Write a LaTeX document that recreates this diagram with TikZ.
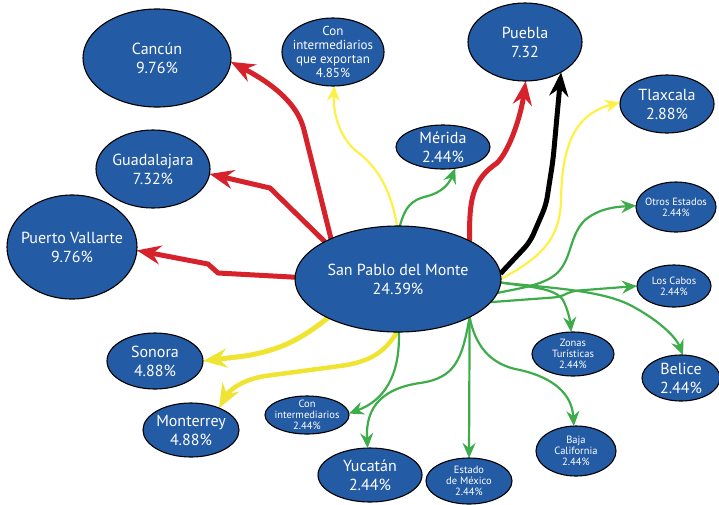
\documentclass[tikz,border=0pt]{standalone}
\usepackage{fontspec}
\setmainfont{PT Sans}
\usetikzlibrary{shapes.geometric,arrows.meta,backgrounds}

\definecolor{blobfill}{RGB}{36,91,165}
\definecolor{rojo}{RGB}{214,35,43}
\definecolor{amarillo}{RGB}{240,228,50}
\definecolor{amarilloclaro}{RGB}{255,240,70}
\definecolor{verde}{RGB}{62,172,74}

\tikzset{
  blob/.style={ellipse, draw=black, line width=1.1pt, fill=blobfill, inner sep=0pt, outer sep=0pt},
  lbl/.style={text=white, align=center, inner sep=0pt},
  big/.style={font=\fontsize{16}{19}\selectfont},
  mid/.style={font=\fontsize{13}{13.8}\selectfont},
  sml/.style={font=\fontsize{10.5}{11}\selectfont},
  heavy/.style={line width=5pt, line join=round, -{Stealth[length=24pt,width=19pt,inset=8pt]}},
  light/.style={line width=2.2pt, line join=round, -{Stealth[length=15pt,width=13pt,inset=5pt]}},
  redline/.style={heavy, draw=rojo},
  blackline/.style={heavy, draw=black},
  yellowthick/.style={heavy, draw=amarillo},
  yellowthin/.style={light, draw=amarilloclaro},
  greenline/.style={light, draw=verde},
}

% name, position, width, height, text size style, text
\newcommand\place[6]{%
  \node[blob, minimum width=#3pt, minimum height=#4pt] (#1) at (#2) {};
  \node[lbl,#5] (#1-t) at (#1) {#6};}

\begin{document}
\begin{tikzpicture}[x=1pt,y=-1pt]
\useasboundingbox (0,0) rectangle (719,504);

\place{c}{398,279}{206}{106}{big}{San Pablo del Monte\\24.39\%}
\place{cancun}{157,58}{148}{98}{big}{Cancún\\9.76\%}
\place{gdl}{153,169}{114}{78}{big}{Guadalajara\\7.32\%}
\place{pv}{72,247}{130}{104}{big}{Puerto Vallarte\\9.76\%}
\place{cie}{333,52}{102}{68}{mid}{Con\\intermediarios\\que exportan\\4.85\%}
\place{pue}{525,42}{114}{78}{big}{Puebla\\7.32}
\place{tlx}{667,104}{94}{58}{big}{Tlaxcala\\2.88\%}
\place{mer}{443,147}{94}{44}{big}{Mérida\\2.44\%}
\place{oe}{676,207}{80}{50}{sml}{Otros Estados\\2.44\%}
\place{lc}{674,286}{74}{42}{sml}{Los Cabos\\2.44\%}
\place{zt}{573,354}{82}{44}{sml}{Zonas\\Turísticas\\2.44\%}
\place{bel}{681,378}{78}{46}{big}{Belice\\2.44\%}
\place{bc}{576,451}{80}{50}{sml}{Baja\\California\\2.44\%}
\place{edm}{469,481}{86}{46}{sml}{Estado\\de México\\2.44\%}
\place{yuc}{370,475}{104}{54}{big}{Yucatán\\2.44\%}
\place{ci}{307,415}{84}{38}{sml}{Con\\intermediarios\\2.44\%}
\place{son}{155,361}{96}{56}{big}{Sonora\\4.88\%}
\place{mty}{191,430}{96}{54}{big}{Monterrey\\4.88\%}

\begin{scope}[on background layer]
  % red flows
  \draw[redline] (c.149) -- (304,130) .. controls (298,105) and (275,85) .. (cancun.-3);
  \draw[redline] (c.153) -- (270,188) -- (gdl.-5);
  \draw[redline] (c.179) -- (218,273) -- (208,264) -- (pv.-3);
  \draw[redline] (c.28) .. controls (469,200) and (472,180) .. (497,163)
                        .. controls (510,150) and (521,115) .. (pue.-89);
  % black flow
  \draw[blackline, rounded corners=8pt] (c.3) -- (530,242) -- (546,205) -- (553,160) -- (pue.-40);
  % yellow flows
  \draw[yellowthin] (c.0) .. controls (540,258) and (560,240) .. (561,200)
                          .. controls (562,150) and (572,115) .. (tlx.178);
  \draw[yellowthin] (c.91) .. controls (390,185) and (375,165) .. (355,150)
                           .. controls (338,135) and (333,110) .. (cie.-88);
  \draw[yellowthick] (c.209) .. controls (300,340) and (280,350) .. (245,356) -- (son.0);
  \draw[yellowthick, line width=4.5pt] (c.-91) .. controls (385,352) and (370,362) .. (340,366) -- (265,376)
                           .. controls (240,380) and (228,392) .. (mty.38);
  % green flows
  \draw[greenline] (c.88) .. controls (405,208) and (410,200) .. (428,196)
                          .. controls (442,192) and (449,184) .. (mer.-60);
  \draw[greenline] (c.-8) .. controls (520,288) and (548,285) .. (560,270)
                          .. controls (572,255) and (570,235) .. (585,220)
                          .. controls (600,208) and (615,207) .. (oe.178);
  \draw[greenline, rounded corners=6pt] (c.-14) -- (560,297) -- (572,291) -- (lc.180);
  \draw[greenline] (c.-2) .. controls (530,287) and (555,288) .. (563,300)
                          .. controls (568,310) and (570,320) .. (zt.95);
  \draw[greenline] (c.-2) .. controls (550,288) and (600,290) .. (630,305)
                          .. controls (655,318) and (675,335) .. (bel.85);
  \draw[greenline] (c.-89) .. controls (400,375) and (385,400) .. (ci.2);
  \draw[greenline] (c.-28) .. controls (462,360) and (455,378) .. (420,383)
                           .. controls (385,388) and (365,405) .. (yuc.95);
  \draw[greenline] (c.-28) -- (edm.90);
  \draw[greenline] (c.-28) .. controls (475,345) and (490,365) .. (520,370)
                           .. controls (555,378) and (572,395) .. (bc.95);
\end{scope}
\end{tikzpicture}
\end{document}
